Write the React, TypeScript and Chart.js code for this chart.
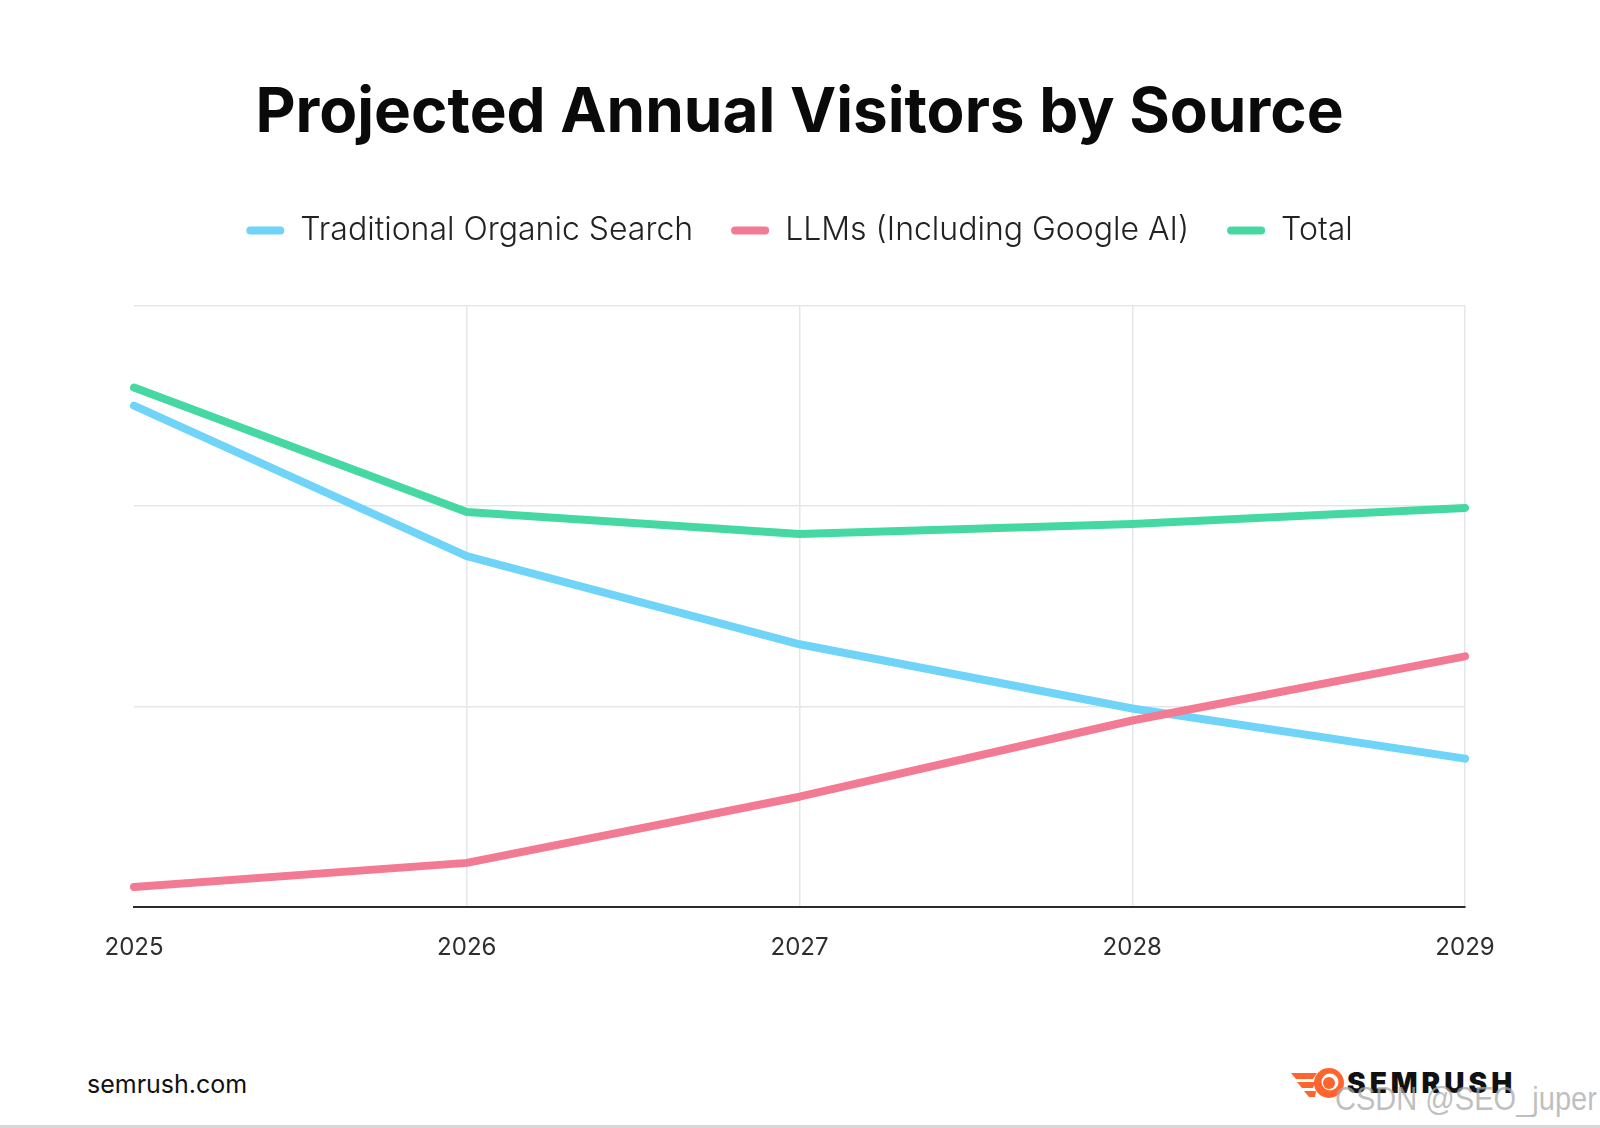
import React, { useEffect, useRef } from 'react';
import { Chart, ChartConfiguration, registerables } from 'chart.js';

Chart.register(...registerables);

// values (arbitrary units, axis has no labels)
const years = ['2025', '2026', '2027', '2028', '2029'];
const organicSearch = [250, 175, 131, 99, 74];
const llmVisitors = [10, 22, 55, 93, 125];
const totalVisitors = [259, 197, 186, 191, 199];

const FONT = 'Inter, "Noto Sans", sans-serif';
const LEGEND_EXTRA = 49;

// push the plot area down under the legend
const legendSpacer = {
  id: 'legendSpacer',
  beforeInit(chart: any) {
    const legend = chart.legend;
    if (!legend) return;
    const fit = legend.fit;
    legend.fit = function () {
      fit.call(this);
      this.height += LEGEND_EXTRA;
    };
  },
};

const VisitorsChart: React.FC = () => {
  const canvasRef = useRef<HTMLCanvasElement | null>(null);
  const chartRef = useRef<Chart | null>(null);

  useEffect(() => {
    if (!canvasRef.current) return;
    const config: ChartConfiguration<'line'> = {
      type: 'line',
      data: {
        labels: years,
        datasets: [
          {
            label: 'Traditional Organic Search',
            data: organicSearch,
            borderColor: '#6fd4f8',
            backgroundColor: '#6fd4f8',
            order: 1,
          },
          {
            label: 'LLMs (Including Google AI)',
            data: llmVisitors,
            borderColor: '#f27b93',
            backgroundColor: '#f27b93',
            order: 0,
          },
          {
            label: 'Total',
            data: totalVisitors,
            borderColor: '#46d8a2',
            backgroundColor: '#46d8a2',
            order: 2,
          },
        ],
      },
      options: {
        animation: false,
        responsive: true,
        maintainAspectRatio: false,
        layout: { padding: { left: 134, right: 135, top: 0, bottom: 0 } },
        elements: {
          line: { borderWidth: 8, borderCapStyle: 'round', borderJoinStyle: 'round', tension: 0 },
          point: { radius: 0, hoverRadius: 0 },
        },
        plugins: {
          tooltip: { enabled: false },
          title: {
            display: true,
            text: 'Projected Annual Visitors by Source',
            color: '#0a0a0a',
            font: { family: FONT, size: 62, weight: 'bold' },
            padding: { top: 76, bottom: 26 },
          },
          legend: {
            display: true,
            position: 'top',
            labels: {
              color: '#222',
              font: { family: FONT, size: 32, weight: 300 },
              boxWidth: 38,
              boxHeight: 8,
              useBorderRadius: true,
              borderRadius: 4,
              padding: 38,
              sort: (a, b) => (a.datasetIndex ?? 0) - (b.datasetIndex ?? 0),
              generateLabels: (chart) =>
                Chart.defaults.plugins.legend.labels
                  .generateLabels(chart)
                  .map((item) => ({ ...item, lineWidth: 0 })),
            },
          },
        },
        scales: {
          x: {
            offset: false,
            grid: {
              color: (ctx) => (ctx.index === 0 ? 'rgba(0,0,0,0)' : '#e4e7ea'),
              lineWidth: 1.5,
              drawTicks: false,
            },
            border: { display: true, color: '#2b2b2b', width: 2 },
            ticks: {
              color: '#2e2e2e',
              font: { family: FONT, size: 24 },
              padding: 26,
              maxRotation: 0,
            },
            afterFit: (scale) => {
              scale.height = 93;
            },
          },
          y: {
            min: 0,
            max: 300,
            ticks: { display: false, stepSize: 100 },
            grid: { color: '#e4e7ea', lineWidth: 1.5, drawTicks: false },
            border: { display: false },
            afterFit: (scale) => {
              scale.width = 0;
            },
          },
        },
      },
      plugins: [legendSpacer],
    };

    chartRef.current = new Chart(canvasRef.current, config);
    return () => {
      if (chartRef.current) {
        chartRef.current.destroy();
        chartRef.current = null;
      }
    };
  }, []);

  return (
    <div style={{ position: 'absolute', left: 0, top: 0, width: 1600, height: 1000 }}>
      <canvas ref={canvasRef} />
    </div>
  );
};

const SemrushLogo: React.FC = () => (
  <div style={{ position: 'absolute', left: 1290, top: 1066, display: 'flex', alignItems: 'center' }}>
    <svg width="56" height="34" viewBox="0 0 56 34">
      <path d="M1 7 L27 7 L23 13 L6 13 Z" fill="#ff642d" />
      <path d="M7 16 L25 16 L23 22 L12 22 Z" fill="#ff642d" />
      <path d="M14 25 L26 25 L25 31 L19 31 Z" fill="#ff642d" />
      <circle cx="39" cy="17" r="15" fill="#ff642d" />
      <circle cx="40" cy="16" r="8.5" fill="#fff" />
      <circle cx="39" cy="17" r="6" fill="#ff642d" />
    </svg>
    <span
      style={{
        fontFamily: FONT,
        fontWeight: 900,
        fontSize: 28,
        letterSpacing: 4,
        color: '#111',
        marginLeft: 1,
      }}
    >
      SEMRUSH
    </span>
  </div>
);

export default function App() {
  return (
    <div style={{ position: 'absolute', left: 0, top: 0, width: 1600, height: 1128, background: '#fff', overflow: 'hidden' }}>
      <VisitorsChart />
      <div
        style={{ position: 'absolute', left: 87, top: 1069, fontFamily: FONT, fontSize: 25, color: '#111' }}
      >
        semrush.com
      </div>
      <SemrushLogo />
      <div
        style={{
          position: 'absolute',
          left: 1335,
          top: 1080,
          fontFamily: '"Liberation Sans", sans-serif',
          fontSize: 33,
          color: 'rgba(170,170,170,0.75)',
          whiteSpace: 'nowrap',
          transform: 'scaleX(0.88)',
          transformOrigin: 'left center',
        }}
      >
        CSDN @SEO_juper
      </div>
      <div style={{ position: 'absolute', left: 0, top: 1125, width: 1600, height: 3, background: '#d8d8d8' }} />
    </div>
  );
}
